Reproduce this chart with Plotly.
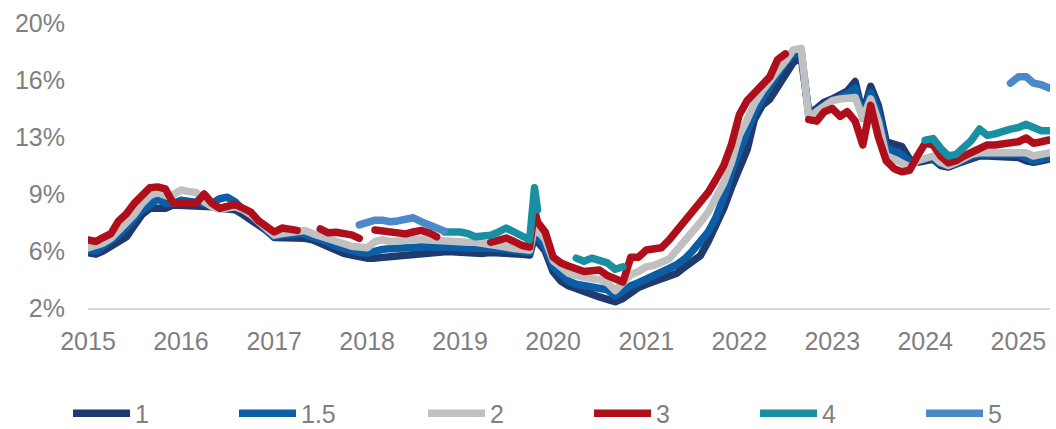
import pandas as pd
import plotly.graph_objects as go

N = None

# Monthly observations (first of month), plus one extra mid-October 2019 point
months = pd.date_range("2015-01-01", "2025-05-01", freq="MS").strftime("%Y-%m-%d").tolist()
dates = months[:58] + ["2019-10-20"] + months[58:]

series_names = ["1", "1.5", "2", "3", "4", "5"]
series_colors = ["#1F3A6E", "#0B5EA6", "#C0C0C0", "#AE0F1B", "#1890A1", "#4B89C9"]

y_tick_values = [2, 5.6, 9.2, 12.8, 16.4, 20]
y_tick_labels = ["2%", "6%", "9%", "13%", "16%", "20%"]
x_tick_years = list(range(2015, 2026))

tenor_1 = [
    5.5, 5.4, 5.6, 5.9, 6.1, 6.5, 7.2, 7.9, 8.3, 8.35, 8.3, 8.5,          # 2015
    8.5, 8.4, 8.5, 8.5, 8.4, 8.3, 8.3, 8.2, 7.9, 7.6, 7.2, 6.9,           # 2016
    6.45, 6.45, 6.5, 6.5, 6.4, 6.3, 6.1, 5.9, 5.6, 5.45, 5.35, 5.2,       # 2017
    5.15, 5.15, 5.2, 5.2, 5.25, 5.3, 5.4, 5.5, 5.5, 5.55, 5.55, 5.55,     # 2018
    5.5, 5.5, 5.45, 5.45, 5.5, 5.5, 5.5, 5.45, 5.4, 5.35, 6.5, 6.2, 5.6,  # 2019
    4.3, 3.7, 3.4, 3.2, 3.0, 2.85, 2.7, 2.55, 2.4, 2.6, 3.0, 3.3,         # 2020
    3.5, 3.7, 3.85, 4.0, 4.2, 4.6, 5.0, 5.3, 6.2, 7.2, 8.3, 9.6,          # 2021
    10.9, 12.0, 13.9, 14.8, 15.2, 16.0, 16.7, 17.5, 17.9, 14.3, 14.6, 15.0,  # 2022
    15.2, 15.4, 15.7, 16.3, 14.2, 16.0, 14.8, 12.5, 12.4, 12.2, 11.4, 11.2,  # 2023
    11.3, 11.4, 11.0, 10.9, 11.1, 11.3, 11.5, 11.6, 11.6, 11.6, 11.5, 11.5,  # 2024
    11.5, 11.3, 11.2, 11.3, 11.4,                                           # 2025
]

tenor_1_5 = [
    5.65, 5.6, 5.9, 6.2, 6.6, 7.1, 7.7, 8.2, 8.5, 8.9, 8.6, 8.6,
    8.8, 8.7, 8.6, 8.6, 8.6, 8.9, 9.0, 8.7, 8.2, 7.9, 7.4, 7.0,
    6.5, 6.6, 6.7, 6.7, 6.65, 6.5, 6.35, 6.15, 5.9, 5.75, 5.6, 5.5,
    5.45, 5.6, 5.7, 5.75, 5.8, 5.8, 5.85, 5.85, 5.85, 5.85, 5.8, 5.8,
    5.8, 5.85, 5.85, 5.8, 5.8, 5.75, 5.7, 5.65, 5.55, 5.5, 6.8, 6.5, 5.85,
    4.6, 4.1, 3.7, 3.5, 3.4, 3.35, 3.25, 3.15, 2.75, 3.1, 3.4, 3.6,
    3.8, 4.0, 4.2, 4.5, 4.75, 5.1, 5.6, 6.3, 6.8, 7.7, 9.0, 10.6,
    11.9, 13.0, 14.3, 15.2, 15.9, 16.7, 17.5, 18.0, 18.2, 14.2, 14.5, 14.9,
    15.1, 15.3, 15.5, 15.9, 14.0, 15.6, 14.3, 12.1, 11.9, 11.7, 11.2, 11.3,
    11.4, 11.5, 11.1, 11.0, 11.1, 11.4, 11.6, 11.7, 11.7, 11.7, 11.6, 11.6,
    11.7, 11.5, 11.3, 11.4, 11.5,
]

tenor_2 = [
    5.8, 5.9, 6.1, 6.4, 6.9, 7.4, 7.9, 8.6, 9.1, 9.3, 9.1, 9.15,
    9.45, 9.35, 9.3, 8.7, 8.4, 8.25, 8.35, 8.4, 8.2, 7.9, 7.45, 7.0,
    6.6, 6.7, 6.75, 6.75, 6.9, 6.7, 6.55, 6.35, 6.15, 6.0, 5.9, 5.85,
    5.8, 6.2, 6.3, 6.2, 6.25, 6.35, 6.4, 6.35, 6.3, 6.25, 6.2, 6.15,
    6.15, 6.15, 6.15, 6.1, 6.0, 5.95, 5.85, 5.75, 5.7, 5.65, 7.1, 6.9, 6.35,
    5.0, 4.5, 4.2, 4.05, 3.9, 3.85, 3.8, 3.6, 3.1, 3.6, 4.1, 4.3,
    4.6, 4.7, 4.85, 5.1, 5.66, 6.2, 6.74, 7.4, 8.05, 8.9, 9.9, 11.2,
    12.9, 13.9, 14.9, 15.7, 16.4, 17.0, 17.6, 18.3, 18.4, 14.0, 14.4, 14.8,
    15.1, 15.2, 15.3, 15.3, 14.0, 15.2, 13.8, 11.6, 11.4, 11.2, 10.9, 11.3,
    11.5, 11.6, 11.2, 11.0, 11.2, 11.5, 11.7, 11.8, 11.8, 11.8, 11.8, 11.8,
    11.9, 11.8, 11.6, 11.7, 11.8,
]

tenor_3 = [
    6.3, 6.2, 6.45, 6.7, 7.5, 7.95, 8.6, 9.15, 9.6, 9.65, 9.52, 8.63,
    8.63, 8.63, 8.63, 9.2, 8.63, 8.3, 8.4, 8.55, 8.3, 8.06, 7.5, 7.12,
    6.8, 7.05, 6.95, 6.9, N, N, 7.0, 6.75, 6.78, 6.7, 6.62, 6.4,
    N, 6.93, 6.85, 6.8, 6.65, 6.68, 6.8, 6.9, 6.75, 6.5, N, N,
    N, N, N, N, 6.15, 6.3, 6.42, 6.2, 5.95, 5.85, 8.2, 7.43, 6.8,
    5.22, 4.84, 4.65, 4.53, 4.3, 4.35, 4.4, 4.05, 3.85, 3.64, 5.2, 5.2,
    5.66, 5.7, 5.8, 6.3, 6.9, 7.5, 8.1, 8.63, 9.3, 10.1, 11.0, 12.3,
    14.2, 15.1, 15.6, 16.2, 16.6, 17.7, 18.05, N, N, 13.9, 13.8, 14.4,
    14.6, 14.1, 14.4, 13.8, 12.3, 14.8, 12.8, 11.3, 10.8, 10.6, 10.7, 11.6,
    12.4, 12.3, 11.6, 11.16, 11.3, 11.6, 11.8, 12.0, 12.3, 12.3, 12.4, 12.42,
    12.5, 12.74, 12.4, 12.5, 12.61,
]

tenor_4 = (
    [N] * 36
    + [N] * 10 + [6.8, 6.85]
    + [6.8, 6.7, 6.5, 6.55, 6.6, 6.8, 7.05, 6.8, 6.5, 6.3, 9.6, 8.2, N]
    + [N, N, N, 5.15, 4.95, 5.15, 5.0, 4.85, 4.45, 4.6, N, N]
    + [N] * 36
    + [12.6, 12.7, 12.1, 11.6, 11.7, 12.2, 12.6, 13.3, 12.9, 13.0, 13.2, 13.3]
    + [13.4, 13.6, 13.4, 13.2, 13.2]
)

tenor_5 = (
    [N] * 24
    + [N] * 11 + [7.25]
    + [7.45, 7.55, 7.55, 7.45, 7.5, 7.65, 7.7, 7.45, 7.3, 7.05, 6.85, N]
    + [N] * 13
    + [N] * 48
    + [N] * 11 + [16.2]
    + [16.6, 16.6, 16.2, 16.1, 15.9]
)

series_values = [tenor_1, tenor_1_5, tenor_2, tenor_3, tenor_4, tenor_5]
for vals in series_values:
    assert len(vals) == len(dates)

# Each legend entry sits in its own legend box along the bottom row
legend_left = [0.0644, 0.2216, 0.4006, 0.5578, 0.7150, 0.8722]

fig = go.Figure()
legend_layout = {}
for i, (name, color, vals) in enumerate(zip(series_names, series_colors, series_values)):
    key = "legend" if i == 0 else f"legend{i + 1}"
    fig.add_trace(go.Scatter(
        x=dates, y=vals, mode="lines", name=name, legend=key,
        line=dict(color=color, width=7.5),
    ))
    legend_layout[key] = dict(
        orientation="h", xref="container", x=legend_left[i], xanchor="left",
        yref="container", y=0.036, yanchor="middle",
        itemwidth=57, font=dict(size=25), bgcolor="rgba(0,0,0,0)",
    )

fig.update_layout(
    width=1056, height=429,
    margin=dict(l=88, r=6, t=23, b=121, autoexpand=False),
    paper_bgcolor="white", plot_bgcolor="white",
    font=dict(family="Liberation Sans, Arial, sans-serif", size=25, color="#7F7F7F"),
    showlegend=True,
    xaxis=dict(
        type="date", range=["2015-01-01", "2025-05-05"],
        tickvals=[f"{y}-01-01" for y in x_tick_years],
        ticktext=[str(y) for y in x_tick_years],
        showgrid=False, zeroline=False, ticks="",
        showline=True, linecolor="#D9D9D9", linewidth=2,
        ticklabelstandoff=10,
    ),
    yaxis=dict(
        range=[2, 20], tickvals=y_tick_values, ticktext=y_tick_labels,
        showgrid=False, zeroline=False, showline=False, ticks="",
        ticklabelstandoff=22,
    ),
    **legend_layout,
)

# Rounded joins and caps on the plotted series lines
round_lines = """
document.querySelectorAll('.scatterlayer .js-line').forEach(function (p) {
  p.style.strokeLinejoin = 'round';
  p.style.strokeLinecap = 'round';
});
"""

fig.write_html("out.html", post_script=round_lines)
